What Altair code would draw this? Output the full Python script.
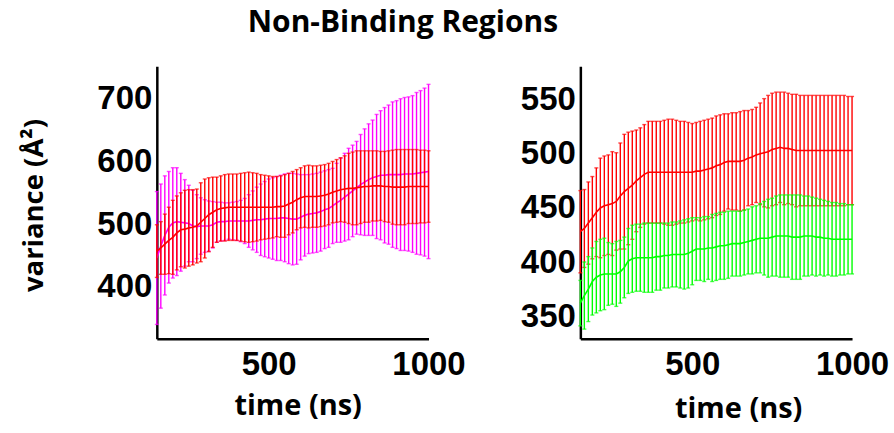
import altair as alt
import pandas as pd

# Sampling times (ns) shared by every series
time_ns = [150, 162.5, 175, 187.5, 200, 212.5, 225, 237.5, 250, 262.5,
           275, 287.5, 300, 312.5, 325, 337.5, 350, 362.5, 375, 387.5,
           400, 412.5, 425, 437.5, 450, 462.5, 475, 487.5, 500, 512.5,
           525, 537.5, 550, 562.5, 575, 587.5, 600, 612.5, 625, 637.5,
           650, 662.5, 675, 687.5, 700, 712.5, 725, 737.5, 750, 762.5,
           775, 787.5, 800, 812.5, 825, 837.5, 850, 862.5, 875, 887.5,
           900, 912.5, 925, 937.5, 950, 962.5, 975, 987.5, 1000]

# Left panel: magenta series (mean and standard deviation, Å^2)
left_magenta_mean = [446, 465, 482, 495, 502, 504, 503, 502, 501, 497,
                     496, 497, 497, 497, 499, 503, 504, 504, 505, 505,
                     505, 505, 505, 505, 506, 507, 507, 508, 509, 509,
                     509, 510, 510, 509, 508, 508, 511, 514, 516, 517,
                     518, 520, 523, 525, 529, 534, 538, 543, 548, 553,
                     558, 563, 567, 571, 574, 576, 578, 578, 579, 579,
                     579, 579, 580, 580, 580, 581, 582, 583, 584]
left_magenta_sd = [106, 99, 95, 89, 88, 86, 78, 69, 61, 57,
                   51, 45, 42, 40, 37, 32, 31, 30, 29, 30,
                   31, 33, 36, 42, 47, 52, 57, 60, 63, 65,
                   67, 68, 70, 72, 73, 72, 68, 65, 63, 63,
                   63, 63, 62, 62, 60, 63, 67, 70, 73, 73,
                   74, 80, 85, 89, 92, 99, 103, 108, 111, 116,
                   118, 121, 122, 123, 125, 129, 131, 134, 139]

# Left panel: red series
left_red_mean = [457, 462, 468, 474, 479, 486, 491, 492, 494, 495,
                 497, 503, 509, 515, 519, 523, 525, 526, 527, 527,
                 527, 527, 527, 527, 527, 527, 527, 527, 527, 527,
                 528, 528, 529, 532, 535, 539, 542, 544, 544, 544,
                 544, 545, 546, 548, 551, 553, 555, 556, 557, 557,
                 558, 559, 560, 560, 561, 561, 561, 560, 560, 559,
                 559, 559, 559, 560, 560, 560, 560, 560, 560]
left_red_sd = [42, 42, 48, 53, 59, 59, 59, 62, 61, 60,
               59, 63, 63, 59, 56, 52, 52, 53, 53, 53,
               53, 54, 55, 56, 55, 54, 52, 51, 50, 49,
               48, 49, 50, 49, 49, 48, 48, 49, 50, 49,
               49, 49, 49, 49, 49, 50, 51, 53, 56, 58,
               59, 58, 57, 57, 56, 56, 55, 56, 57, 59,
               60, 60, 60, 59, 59, 59, 58, 58, 57]

# Right panel: red series
right_red_mean = [428, 431, 436, 441, 446, 450, 452, 453, 454, 456,
                  461, 465, 468, 471, 475, 478, 481, 483, 483, 483,
                  483, 483, 483, 483, 483, 483, 483, 483, 483, 484,
                  484, 485, 486, 487, 489, 490, 492, 493, 493, 493,
                  493, 494, 496, 497, 499, 500, 501, 502, 504, 505,
                  506, 505, 505, 504, 503, 503, 503, 503, 503, 503,
                  503, 503, 503, 503, 503, 503, 503, 503, 503]
right_red_sd = [38, 36, 38, 38, 41, 46, 46, 46, 48, 45,
                49, 53, 52, 50, 47, 46, 46, 47, 47, 47,
                47, 48, 49, 49, 48, 47, 47, 46, 45, 45,
                46, 46, 46, 46, 46, 46, 45, 44, 45, 45,
                46, 46, 44, 44, 44, 47, 50, 52, 52, 52,
                51, 52, 51, 51, 52, 51, 51, 51, 51, 51,
                51, 51, 51, 51, 51, 51, 51, 50, 50]

# Right panel: green series
right_green_mean = [362, 369, 375, 382, 386, 388, 389, 389, 389, 389,
                    391, 395, 401, 403, 404, 404, 404, 404, 404, 405,
                    405, 406, 406, 407, 407, 407, 407, 408, 410, 412,
                    412, 412, 413, 413, 414, 415, 415, 416, 417, 417,
                    417, 418, 419, 420, 421, 422, 422, 422, 423, 424,
                    424, 424, 424, 423, 423, 423, 424, 424, 424, 423,
                    423, 422, 422, 421, 421, 421, 421, 421, 421]
right_green_sd = [21, 31, 30, 31, 33, 33, 33, 29, 28, 30,
                  29, 28, 30, 31, 31, 31, 32, 32, 32, 31,
                  31, 30, 30, 30, 30, 31, 32, 32, 31, 29,
                  29, 30, 29, 31, 31, 31, 31, 31, 30, 30,
                  30, 30, 30, 31, 31, 32, 34, 36, 36, 37,
                  38, 38, 38, 39, 39, 39, 37, 37, 36, 36,
                  35, 35, 34, 34, 34, 33, 33, 32, 32]

x_ticks = [500, 1000]
left_y_ticks = [400, 500, 600, 700]
right_y_ticks = [350, 400, 450, 500, 550]

MAGENTA = "#ff00ff"
RED = "#ff0000"
GREEN = "#00ff00"

TICK_FONT = "Liberation Sans"
TEXT_FONT = "Open Sans"

PANEL_W = 272
PANEL_H = 273


def frame(mean, sd):
    df = pd.DataFrame({"time": time_ns, "mean": mean, "sd": sd})
    df["lo"] = df["mean"] - df["sd"]
    df["hi"] = df["mean"] + df["sd"]
    return df


def x_axis(title_x, title_y):
    return alt.Axis(values=x_ticks, format="d", title="time (ns)",
                    labelFont=TICK_FONT, labelFontSize=33, labelFontWeight="bold",
                    labelColor="black", labelPadding=10, labelFlush=False,
                    labelOverlap=False, ticks=False, grid=False,
                    domainColor="black", domainWidth=2.5,
                    titleFont=TEXT_FONT, titleFontSize=29, titleFontWeight="bold",
                    titleColor="black", titleBaseline="alphabetic",
                    titleX=title_x, titleY=title_y)


def y_axis(values, title):
    kw = dict(values=values, format="d",
              labelFont=TICK_FONT, labelFontSize=33, labelFontWeight="bold",
              labelColor="black", labelPadding=5, labelOverlap=False,
              ticks=False, grid=False, domainColor="black", domainWidth=2.5)
    if title:
        kw.update(title=title, titleFont=TEXT_FONT, titleFontSize=27.5,
                  titleFontWeight="bold", titleColor="black",
                  titleBaseline="alphabetic", titleX=-114, titleY=139)
    else:
        kw.update(title=None)
    return alt.Axis(**kw)


def series(df, color, xs, ys, xa, ya):
    base = alt.Chart(df)
    x = alt.X("time:Q", scale=xs, axis=xa)
    bars = base.mark_rule(color=color, strokeWidth=1.4).encode(
        x=x, y=alt.Y("lo:Q", scale=ys, axis=ya), y2="hi:Q")
    cap_lo = base.mark_tick(orient="horizontal", color=color, size=4,
                            thickness=1.4).encode(
        x=x, y=alt.Y("lo:Q", scale=ys, axis=ya))
    cap_hi = base.mark_tick(orient="horizontal", color=color, size=4,
                            thickness=1.4).encode(
        x=x, y=alt.Y("hi:Q", scale=ys, axis=ya))
    line = base.mark_line(color=color, strokeWidth=1.6).encode(
        x=x, y=alt.Y("mean:Q", scale=ys, axis=ya))
    return [bars, cap_lo, cap_hi, line]


xs = alt.Scale(domain=[150, 1000], nice=False, zero=False)

ys_left = alt.Scale(domain=[317, 752], nice=False, zero=False)
xa_left = x_axis(141, 76)
ya_left = y_axis(left_y_ticks, "variance (Å²)")
left = alt.layer(
    *series(frame(left_magenta_mean, left_magenta_sd), MAGENTA, xs, ys_left, xa_left, ya_left),
    *series(frame(left_red_mean, left_red_sd), RED, xs, ys_left, xa_left, ya_left),
).properties(width=PANEL_W, height=PANEL_H)

ys_right = alt.Scale(domain=[329, 581], nice=False, zero=False)
xa_right = x_axis(158, 79)
ya_right = y_axis(right_y_ticks, None)
right = alt.layer(
    *series(frame(right_red_mean, right_red_sd), RED, xs, ys_right, xa_right, ya_right),
    *series(frame(right_green_mean, right_green_sd), GREEN, xs, ys_right, xa_right, ya_right),
).properties(width=PANEL_W, height=PANEL_H)

chart = alt.hconcat(left, right, spacing=152, bounds="flush").properties(
    title=alt.TitleParams("Non-Binding Regions", font=TEXT_FONT, fontSize=30,
                          fontWeight="bold", color="black", anchor="middle",
                          offset=28, dx=-52),
    padding={"left": 21, "top": 8, "right": 5, "bottom": 5},
    background="white",
).configure_view(stroke=None)

chart.save("out.html", embed_options={"renderer": "svg", "actions": False})
